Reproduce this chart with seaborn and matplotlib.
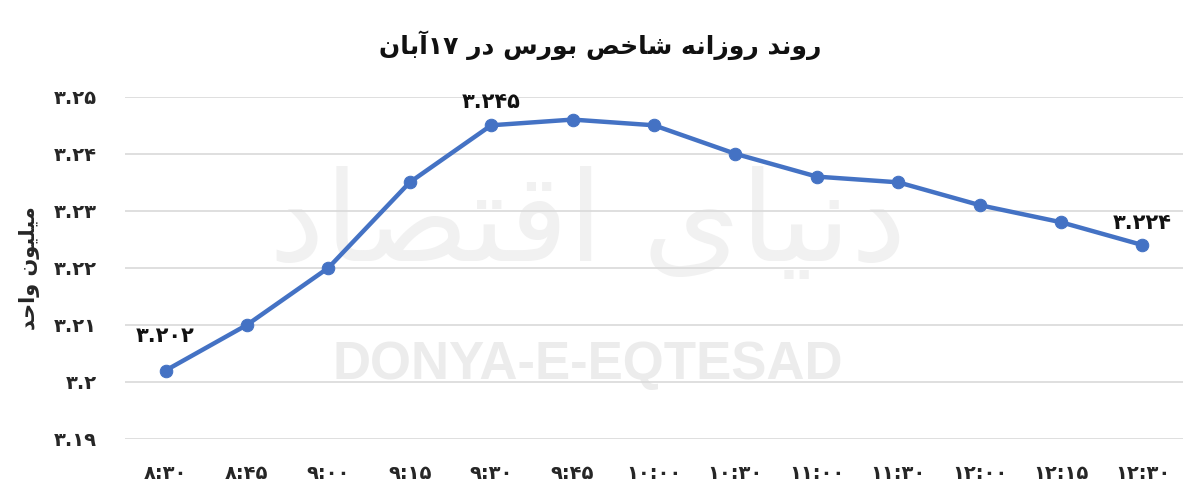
import matplotlib
matplotlib.use("Agg")
import matplotlib.pyplot as plt
import seaborn as sns
import pandas as pd

# ---------------- data ----------------
times = ["۸:۳۰", "۸:۴۵", "۹:۰۰", "۹:۱۵", "۹:۳۰", "۹:۴۵", "۱۰:۰۰",
         "۱۰:۳۰", "۱۱:۰۰", "۱۱:۳۰", "۱۲:۰۰", "۱۲:۱۵", "۱۲:۳۰"]
values = [3.202, 3.210, 3.220, 3.235, 3.245, 3.246, 3.245,
          3.240, 3.236, 3.235, 3.231, 3.228, 3.224]
y_ticks = [3.19, 3.20, 3.21, 3.22, 3.23, 3.24, 3.25]
y_tick_labels = ["۳.۱۹", "۳.۲", "۳.۲۱", "۳.۲۲", "۳.۲۳", "۳.۲۴", "۳.۲۵"]
labelled_idx = [0, 4, 12]
point_labels = ["۳.۲۰۲", "۳.۲۴۵", "۳.۲۲۴"]
title_text = "روند روزانه شاخص بورس در ۱۷آبان"
ylabel_text = "میلیون واحد"
watermark_en = "DONYA-E-EQTESAD"
watermark_fa = "دنیای اقتصاد"

# ------------- minimal Persian shaping + bidi -------------
FORMS = {  # isolated, final, initial, medial
    "\u0622": ("\uFE81", "\uFE82", None, None),
    "\u0627": ("\uFE8D", "\uFE8E", None, None),
    "\u0628": ("\uFE8F", "\uFE90", "\uFE91", "\uFE92"),
    "\u062A": ("\uFE95", "\uFE96", "\uFE97", "\uFE98"),
    "\u062D": ("\uFEA1", "\uFEA2", "\uFEA3", "\uFEA4"),
    "\u062E": ("\uFEA5", "\uFEA6", "\uFEA7", "\uFEA8"),
    "\u062F": ("\uFEA9", "\uFEAA", None, None),
    "\u0630": ("\uFEAB", "\uFEAC", None, None),
    "\u0631": ("\uFEAD", "\uFEAE", None, None),
    "\u0632": ("\uFEAF", "\uFEB0", None, None),
    "\u0633": ("\uFEB1", "\uFEB2", "\uFEB3", "\uFEB4"),
    "\u0634": ("\uFEB5", "\uFEB6", "\uFEB7", "\uFEB8"),
    "\u0635": ("\uFEB9", "\uFEBA", "\uFEBB", "\uFEBC"),
    "\u0642": ("\uFED5", "\uFED6", "\uFED7", "\uFED8"),
    "\u0644": ("\uFEDD", "\uFEDE", "\uFEDF", "\uFEE0"),
    "\u0645": ("\uFEE1", "\uFEE2", "\uFEE3", "\uFEE4"),
    "\u0646": ("\uFEE5", "\uFEE6", "\uFEE7", "\uFEE8"),
    "\u0647": ("\uFEE9", "\uFEEA", "\uFEEB", "\uFEEC"),
    "\u0648": ("\uFEED", "\uFEEE", None, None),
    "\u06CC": ("\uFBFC", "\uFBFD", "\uFBFE", "\uFBFF"),
}


def dual(c):
    return c in FORMS and FORMS[c][2] is not None


def shape(s):
    out = []
    for i, c in enumerate(s):
        if c not in FORMS:
            out.append(c)
            continue
        prev = s[i - 1] if i > 0 else ""
        nxt = s[i + 1] if i + 1 < len(s) else ""
        jp = dual(prev)
        jn = dual(c) and nxt in FORMS
        f = FORMS[c]
        if jp and jn:
            out.append(f[3])
        elif jp:
            out.append(f[1])
        elif jn:
            out.append(f[2])
        else:
            out.append(f[0])
    return "".join(out)


def is_num(c):
    return c.isdigit() or c in ".:"


def fa(s):
    s = shape(s)
    runs, cur, cur_num = [], "", None
    for c in s:
        n = is_num(c)
        if cur and n != cur_num:
            runs.append((cur, cur_num))
            cur = ""
        cur += c
        cur_num = n
    if cur:
        runs.append((cur, cur_num))
    return "".join(r if n else r[::-1] for r, n in reversed(runs))


# ---------------- plot ----------------
sns.set_theme(style="white")
plt.rcParams["font.family"] = ["DejaVu Sans"]

df = pd.DataFrame({"time": times, "value": values})
df["pos"] = range(len(times))

fig = plt.figure(figsize=(12, 5.04), dpi=100)
ax = fig.add_axes([0.104, 0.129, 0.882, 0.679])

# watermark (behind everything in the axes)
fig.text(0.49, 0.275, watermark_en, ha="center", va="center", fontsize=38,
         fontweight="bold", color="#ececec", family="Liberation Sans", zorder=-5)
fig.text(0.49, 0.55, fa(watermark_fa), ha="center", va="center", fontsize=90,
         color="#f1f1f1", family=["DejaVu Sans"], zorder=-5)

ax.set_facecolor("none")
ax.grid(axis="y", color="#d9d9d9", linewidth=1.2)
ax.set_axisbelow(True)

sns.lineplot(data=df, x="pos", y="value", ax=ax, color="#4472C4", linewidth=3.2,
             marker="o", markersize=9, markeredgecolor="#4472C4", zorder=3)

ax.set_xlim(-0.5, len(times) - 0.5)
ax.set_ylim(y_ticks[0], y_ticks[-1])
ax.set_xticks(df["pos"])
ax.set_xticklabels(times, fontsize=14, fontweight="bold")
ax.set_yticks(y_ticks)
ax.set_yticklabels(y_tick_labels, fontsize=14, fontweight="bold")
ax.tick_params(axis="both", length=0, pad=18)
ax.tick_params(axis="y", pad=20)
for sp in ax.spines.values():
    sp.set_visible(False)

ax.set_xlabel("")
ax.set_ylabel(fa(ylabel_text), fontsize=15, fontweight="bold", labelpad=10)

offsets = [(0.0, 0.0061), (0.0, 0.0040), (0.0, 0.0039)]
for i, lab, (dx, dy) in zip(labelled_idx, point_labels, offsets):
    ax.text(df["pos"][i] + dx, values[i] + dy, lab, ha="center", va="center",
            fontsize=15, fontweight="bold", color="#111111", zorder=4)

fig.text(0.5, 0.91, fa(title_text), ha="center", va="center",
         fontsize=18, fontweight="bold", color="#111111")

fig.savefig("out.png", dpi=100, facecolor="white")
